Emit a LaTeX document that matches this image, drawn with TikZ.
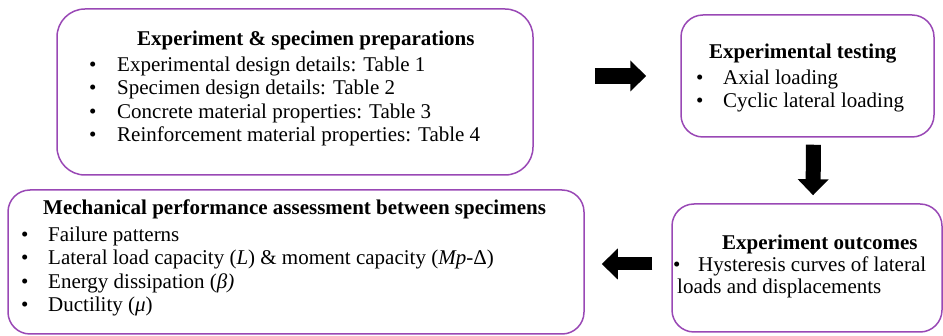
\documentclass[tikz,border=0pt]{standalone}
\usepackage{fontspec}
\setmainfont{Liberation Serif}
\usetikzlibrary{arrows.meta}
\definecolor{boxpurple}{RGB}{153,72,181}
\newcommand{\bul}[1]{\makebox[#1][l]{\textbullet}}

\begin{document}
\begin{tikzpicture}[x=1pt,y=-1pt,
  stage/.style={draw=boxpurple,line width=1.5pt,rounded corners=22pt},
  txt/.style={anchor=base west,inner sep=0pt,font=\fontsize{21}{23}\selectfont},
  ttl/.style={txt,font=\fontsize{21}{23}\selectfont\bfseries},
  flow/.style={line width=15pt,-{Triangle[length=16pt,width=30pt]}}]
  \useasboundingbox (0,0) rectangle (943,336);

  % boxes
  \node[stage,rounded corners=28pt,minimum width=476pt,minimum height=166pt] (prep) at (295,92) {};
  \node[stage,minimum width=253pt,minimum height=122pt] (testing) at (807.5,76) {};
  \node[stage,minimum width=270pt,minimum height=128pt] (outcome) at (807,268) {};
  \node[stage,minimum width=576pt,minimum height=144pt] (assess) at (296,262) {};

  % preparations
  \node[ttl] (prepT) at (137,46) {Experiment \& specimen preparations};
  \node[txt] (prep1) at (89,72) {\bul{28pt}Experimental design details: Table 1};
  \node[txt] (prep2) at (89,95) {\bul{28pt}Specimen design details: Table 2};
  \node[txt] (prep3) at (89,119) {\bul{28pt}Concrete material properties: Table 3};
  \node[txt] (prep4) at (89,142) {\bul{28pt}Reinforcement material properties: Table 4};

  % testing
  \node[ttl] (testT) at (709,59) {Experimental testing};
  \node[txt] (test1) at (696,85) {\bul{27pt}Axial loading};
  \node[txt] (test2) at (696,108) {\bul{27pt}Cyclic lateral loading};

  % outcomes
  \node[ttl] (outT) at (722,250) {Experiment outcomes};
  \node[txt] (out1) at (673,272) {\bul{25pt}Hysteresis curves of lateral};
  \node[txt] (out2) at (677,294) {loads and displacements};

  % assessment
  \node[ttl] (assT) at (43,215) {Mechanical performance assessment between specimens};
  \node[txt] (ass1) at (21,242) {\bul{27pt}Failure patterns};
  \node[txt] (ass2) at (21,265) {\bul{27pt}Lateral load capacity (\textit{L}) \& moment capacity (\textit{Mp}-Δ)};
  \node[txt] (ass3) at (21,289) {\bul{27pt}Energy dissipation (\textit{β)}};
  \node[txt] (ass4) at (21,312) {\bul{27pt}Ductility (\textit{μ})};

  % arrows
  \draw[flow,line width=16pt,shorten <=61pt,shorten >=34pt] (prep.east |- testing.west) -- (testing.west);
  \draw[flow,shorten <=7pt,shorten >=8pt] ([xshift=6pt]testing.south) -- ([xshift=6pt]outcome.north);
  \coordinate (back) at ([yshift=4pt]outcome.west);
  \draw[flow,line width=13pt,shorten <=19pt,shorten >=17pt] (back) -- (back -| assess.east);
\end{tikzpicture}
\end{document}
